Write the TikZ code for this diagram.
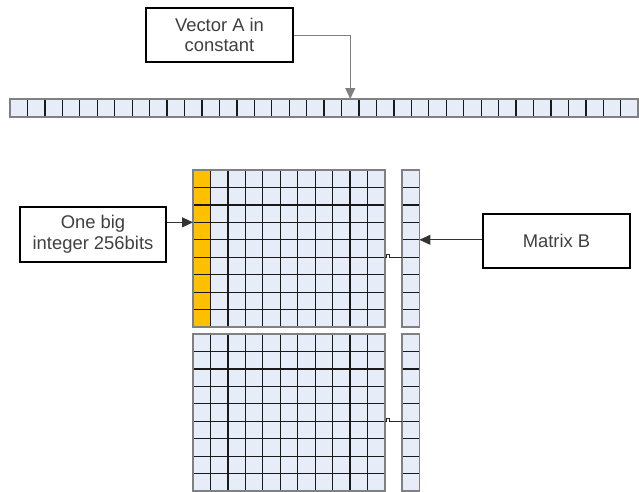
\documentclass[tikz,border=0pt]{standalone}
\usepackage{fontspec}
\setmainfont{Liberation Sans}
\usetikzlibrary{arrows.meta,positioning}
\definecolor{cellblue}{RGB}{231,237,248}
\definecolor{bigorange}{RGB}{255,192,0}
\definecolor{linegray}{RGB}{128,128,128}
\tikzset{
  labelbox/.style={draw=black,line width=2.2pt,fill=white,align=center,text=black!75,
    font=\fontsize{18.4}{20.6}\selectfont,minimum width=147pt,minimum height=54pt,inner sep=0pt},
  pointer/.style={-{Triangle[length=11pt,width=10pt]},line width=1pt,draw=black!80},
  cellgrid/.style={draw=black!90,line width=1.3pt},
  celledge/.style={draw=linegray,line width=1.5pt},
}

\begin{document}
\begin{tikzpicture}[x=1pt,y=-1pt]
  \useasboundingbox (0,0) rectangle (639,491);
  \def\cw{17.45}

  % vector A: one row of 36 cells
  \fill[cellblue] (10,99) rectangle ++({36*\cw},18);
  \foreach \i in {1,...,35} { \draw[cellgrid] ({10+\i*\cw},99) -- ++(0,18); }
  \draw[celledge] (10,99) rectangle ++({36*\cw},18);
  \coordinate (vecA cell) at ({10+19.5*\cw},99);

  % big integers: first column of the upper block
  \fill[bigorange] (193,170) rectangle ++(\cw,{9*\cw});

  % matrix B: two blocks of 9x11 cells, plus one column on the right
  \foreach \ty in {170,334} {
    \fill[cellblue] ({193+\cw},\ty) rectangle ++({10*\cw},{9*\cw});
    \ifnum\ty>200 \fill[cellblue] (193,\ty) rectangle ++(\cw,{9*\cw}); \fi
    \fill[cellblue] (402,\ty) rectangle ++(\cw,{9*\cw});
    \foreach \i in {1,...,10} { \draw[cellgrid] ({193+\i*\cw},\ty) -- ++(0,{9*\cw}); }
    \foreach \j in {1,...,8} {
      \draw[cellgrid] (193,{\ty+\j*\cw}) -- ++({11*\cw},0);
      \draw[cellgrid] (402,{\ty+\j*\cw}) -- ++(\cw,0);
    }
    \draw[celledge] (193,\ty) rectangle ++({11*\cw},{9*\cw});
    \draw[celledge] (402,\ty) rectangle ++(\cw,{9*\cw});
    % link from block to column (with a small hop)
    \coordinate (hop\ty) at ({193+11*\cw},{\ty+5*\cw});
    \coordinate (col\ty) at (402,{\ty+5*\cw});
    \draw[line width=0.9pt,black!85] (hop\ty) -- ++(1.5,0) -- ++(0,-3) -- ++(2.5,0) -- ++(0,3) -- (col\ty);
  }

  % targets of the pointers
  \coordinate (bigin) at (193,{170+3*\cw});
  \coordinate (colin) at ({402+\cw},{170+4*\cw});

  % label boxes
  \node[labelbox] (vecbox) at (219.5,35) {Vector A in\\constant};
  \node[labelbox,minimum width=146pt,minimum height=55pt] (bigbox) at (93,234.5) {One big\\integer 256bits};
  \node[labelbox] (matbox) at (556.5,241) {Matrix B};

  % pointers
  \draw[pointer,draw=linegray] (vecbox.east) -| (vecA cell);
  \draw[pointer] (bigbox.east |- bigin) -- (bigin);
  \draw[pointer] (matbox.west |- colin) -- (colin);
\end{tikzpicture}
\end{document}
